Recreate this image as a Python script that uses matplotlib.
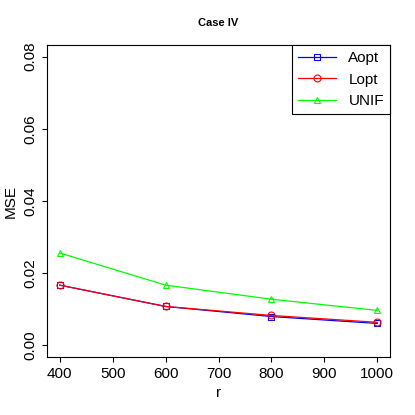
import numpy as np
import matplotlib.pyplot as plt

r = [400, 600, 800, 1000]
aopt = [0.0167, 0.0108, 0.0080, 0.0061]
lopt = [0.0167, 0.0108, 0.0083, 0.0064]
unif = [0.0256, 0.0167, 0.0128, 0.0097]

plt.rcParams['font.family'] = ['Liberation Sans', 'DejaVu Sans']
fig = plt.figure(figsize=(4.15, 4.15), dpi=100)
ax = fig.add_axes([47/415, 58/415, 343/415, 312/415])

ax.plot(r, aopt, color='blue', marker='s', mfc='none', ms=5, mew=0.8, lw=0.9, label='Aopt')
ax.plot(r, lopt, color='red', marker='o', mfc='none', ms=5, mew=0.8, lw=0.9, label='Lopt')
ax.plot(r, unif, color='#00ff00', marker='^', mfc='none', ms=5, mew=0.8, lw=0.9, label='UNIF')

ax.set_xlim(376, 1024)
ax.set_ylim(-0.0032, 0.0832)
ax.set_xticks([400, 500, 600, 700, 800, 900, 1000])
ax.set_yticks([0.0, 0.02, 0.04, 0.06, 0.08])
ax.set_yticklabels(['0.00', '0.02', '0.04', '0.06', '0.08'], rotation=90, va='center')
ax.tick_params(labelsize=11)
ax.set_xlabel('r', fontsize=11)
ax.set_ylabel('MSE', fontsize=11)
ax.set_title('Case IV', fontsize=8, fontweight='bold', pad=14)
leg = ax.legend(loc='upper right', fontsize=11, fancybox=False, framealpha=1,
                edgecolor='black', borderaxespad=0, handlelength=2.5)
leg.get_frame().set_linewidth(0.8)
fig.savefig('out.png', dpi=100)
